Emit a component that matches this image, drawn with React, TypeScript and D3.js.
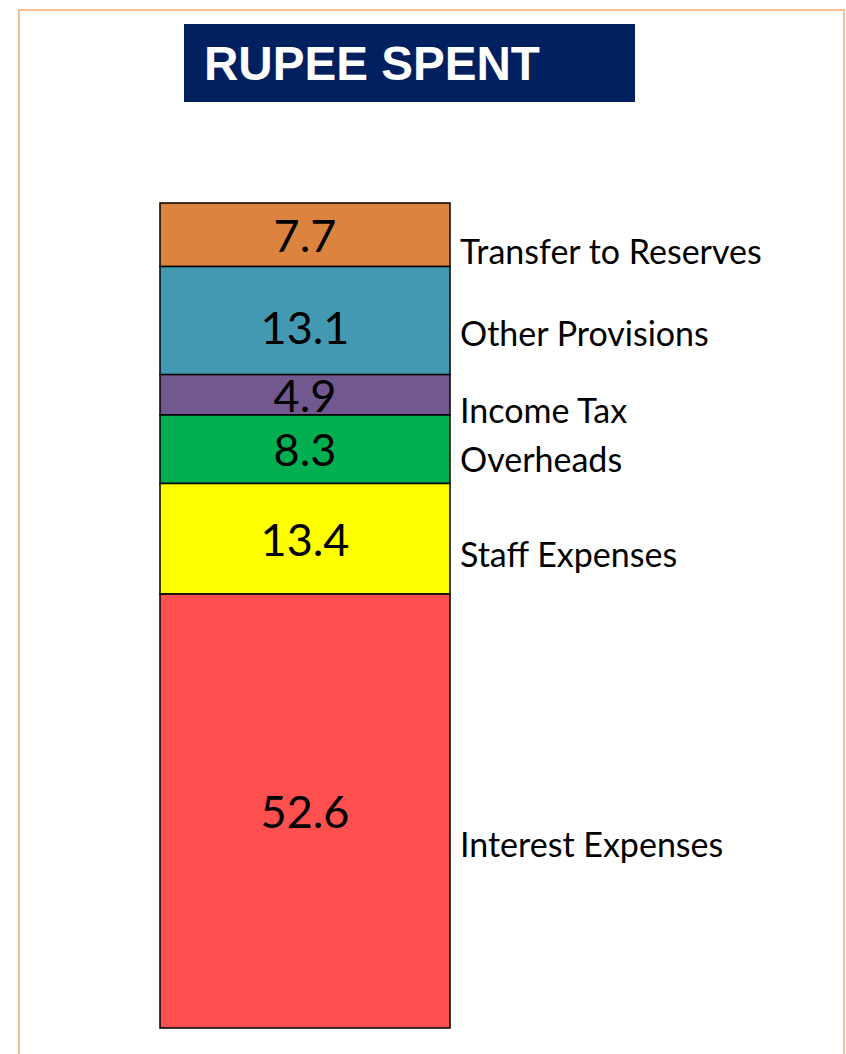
import React from "react";
import * as d3 from "d3";

const categories = [
  "Transfer to Reserves",
  "Other Provisions",
  "Income Tax",
  "Overheads",
  "Staff Expenses",
  "Interest Expenses",
];
const values = [7.7, 13.1, 4.9, 8.3, 13.4, 52.6];
const colors = ["#DC843F", "#4399B1", "#71588F", "#00B050", "#FFFF00", "#FF5050"];
const title = "RUPEE SPENT";

const W = 846;
const H = 1054;
// layout (label nudges from segment centres, px)
const labelNudge = [29, 25, 28, 23, 28, 46];
const valueNudge = [17, 23, 17, 17, 17, 17];

export default function App() {
  const total = d3.sum(values);
  const y = d3.scaleLinear().domain([0, total]).range([203, 1028]);
  const x = d3.scaleBand().domain(["spent"]).range([160, 450]).padding(0);
  const starts = d3.cumsum([0, ...values]);
  const bx = x("spent")!;
  const bw = x.bandwidth();
  const font = "Lato, 'Noto Sans', sans-serif";

  return (
    <svg
      width={W}
      height={H}
      style={{ position: "absolute", left: 0, top: 0 }}
      xmlns="http://www.w3.org/2000/svg"
    >
      <rect x={0} y={0} width={W} height={H} fill="#ffffff" />
      <rect x={19} y={10} width={825} height={H + 20} fill="none" stroke="#F9BF8F" strokeWidth={2} />
      <rect x={184} y={24} width={451} height={78} fill="#002060" />
      <text
        x={204}
        y={80}
        fill="#ffffff"
        fontFamily="'Liberation Sans', Arial, sans-serif"
        fontWeight="bold"
        fontSize={47.6}
      >
        {title}
      </text>
      {values.map((v, i) => {
        const y0 = y(starts[i]);
        const y1 = y(starts[i + 1]);
        const cy = (y0 + y1) / 2;
        return (
          <g key={categories[i]}>
            <rect
              x={bx}
              y={y0}
              width={bw}
              height={y1 - y0}
              fill={colors[i]}
              stroke="#000000"
              strokeWidth={1.5}
            />
            <text
              x={bx + bw / 2}
              y={cy + valueNudge[i]}
              textAnchor="middle"
              fontFamily={font}
              fontSize={45}
              fill="#000000"
            >
              {v.toFixed(1)}
            </text>
            <text
              x={460}
              y={cy + labelNudge[i]}
              fontFamily={font}
              fontSize={34}
              fill="#000000"
            >
              {categories[i]}
            </text>
          </g>
        );
      })}
    </svg>
  );
}
